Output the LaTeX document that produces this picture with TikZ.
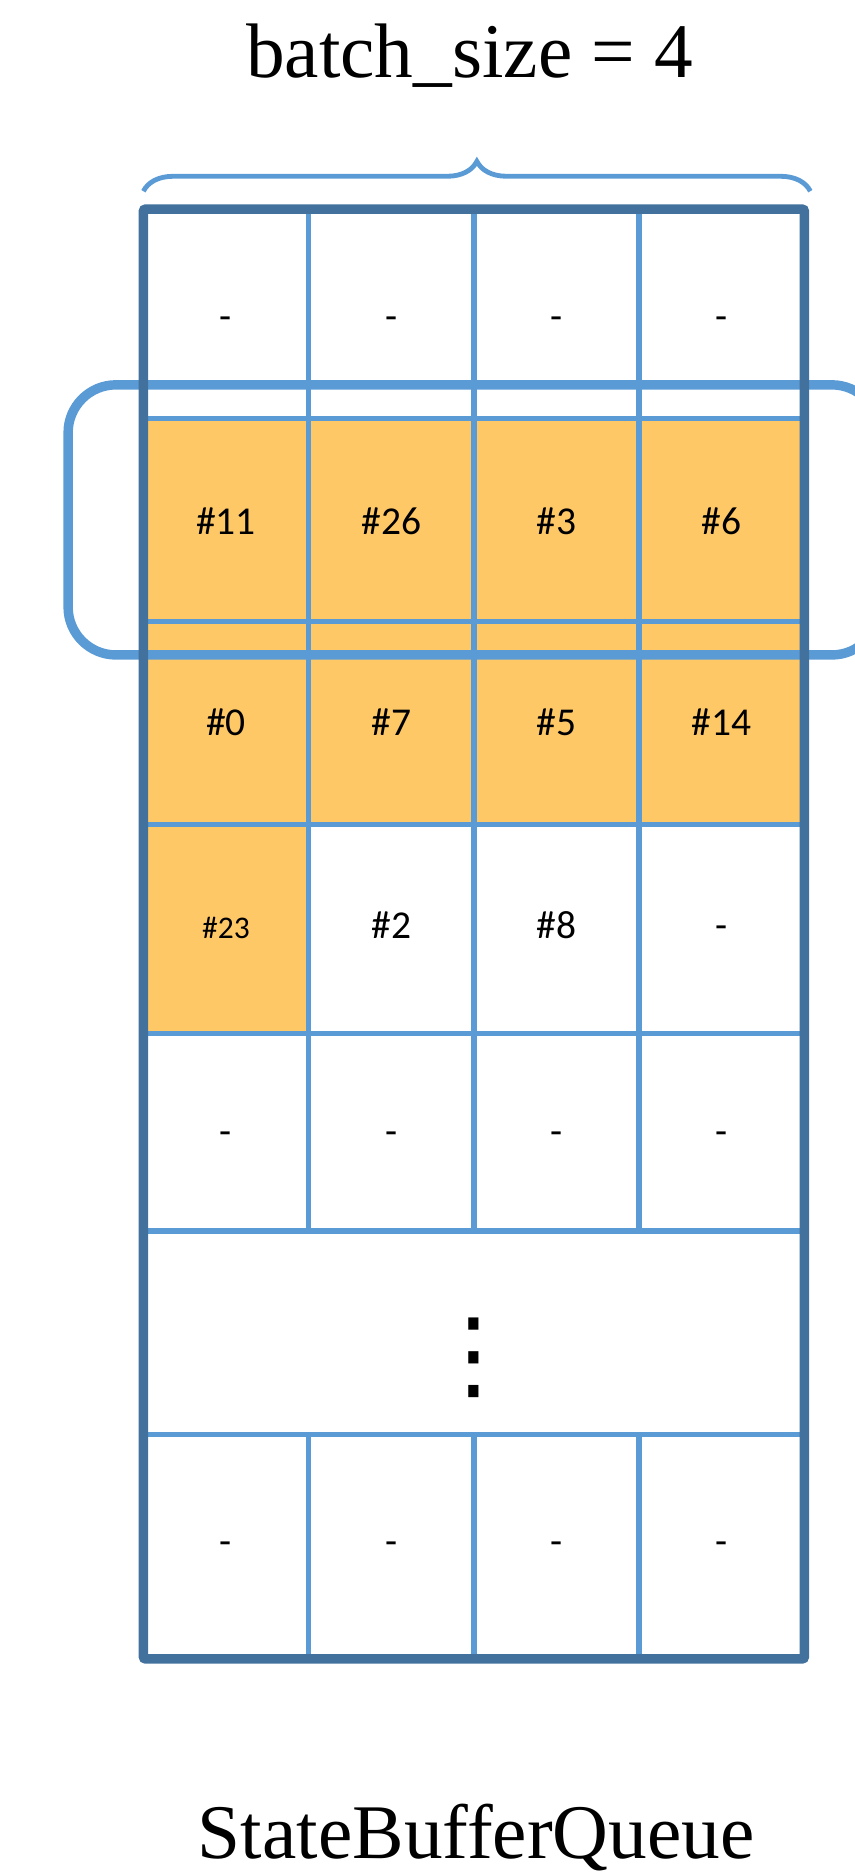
\documentclass[tikz,border=0pt]{standalone}
\usepackage{fontspec}
\setmainfont{Liberation Serif}
\newfontfamily\cellfont{Carlito}
\newfontfamily\symfont{DejaVu Sans}
\usetikzlibrary{decorations.pathreplacing,positioning}
\definecolor{qdark}{RGB}{65,113,156}
\definecolor{qlight}{RGB}{91,155,213}
\definecolor{qorange}{RGB}{254,200,102}

\begin{document}
\begin{tikzpicture}[
    grid/.style={qlight, line width=2.5pt},
    slot/.style={font=\cellfont\fontsize{18.8}{20}\selectfont, text height=11.8pt, text depth=0pt, inner sep=0pt},
    big/.style={font=\fontsize{36.8}{40}\selectfont, anchor=base}
]
    \useasboundingbox (0,0) rectangle (14.3,-31.36);

    % Title and brace
    \node[big] (title) at (7.86,-1.3) {batch\_size = 4};
    \draw[qlight, line width=2.3pt, decorate, decoration={brace,amplitude=0.5cm}] (2.4,-3.2) -- (13.56,-3.2);

    % Filled slots
    \fill[qorange] (2.4,-7.0) rectangle (13.46,-13.8);
    \fill[qorange] (2.4,-13.8) rectangle (5.165,-17.3);

    % Current batch
    \draw[qlight, line width=4.5pt, rounded corners=0.8cm] (1.14,-6.44) rectangle (14.72,-10.96);

    % Grid
    \foreach \y in {-7.0,-10.4,-13.8,-17.3,-20.6,-24.0}
        \draw[grid] (2.4,\y) -- (13.46,\y);
    \foreach \x in {5.165,7.93,10.695} {
        \draw[grid] (\x,-3.5) -- (\x,-20.6);
        \draw[grid] (\x,-24.0) -- (\x,-27.76);
    }
    \draw[qdark, line width=4.5pt, rounded corners=1pt] (2.4,-3.5) rectangle (13.46,-27.76);

    % Slots
    \foreach \y/\lbls [count=\r] in {-5.3/{-,-,-,-}, -8.74/{\#11,\#26,\#3,\#6}, -12.1/{\#0,\#7,\#5,\#14},
            -15.5/{{\fontsize{15}{16}\selectfont\#23},\#2,\#8,-}, -18.94/{-,-,-,-}, -25.8/{-,-,-,-}} {
        \foreach \lbl [count=\c] in \lbls
            \node[slot] (s\r\c) at ({2.4+2.765*(\c-0.5)},\y) {\lbl};
    }
    \node[font=\symfont\fontsize{47}{50}\selectfont, inner sep=0pt] (dots) at (7.93,-22.72) {⋮};

    % Caption
    \node[big] (caption) at (7.97,-31.1) {StateBufferQueue};
\end{tikzpicture}
\end{document}
